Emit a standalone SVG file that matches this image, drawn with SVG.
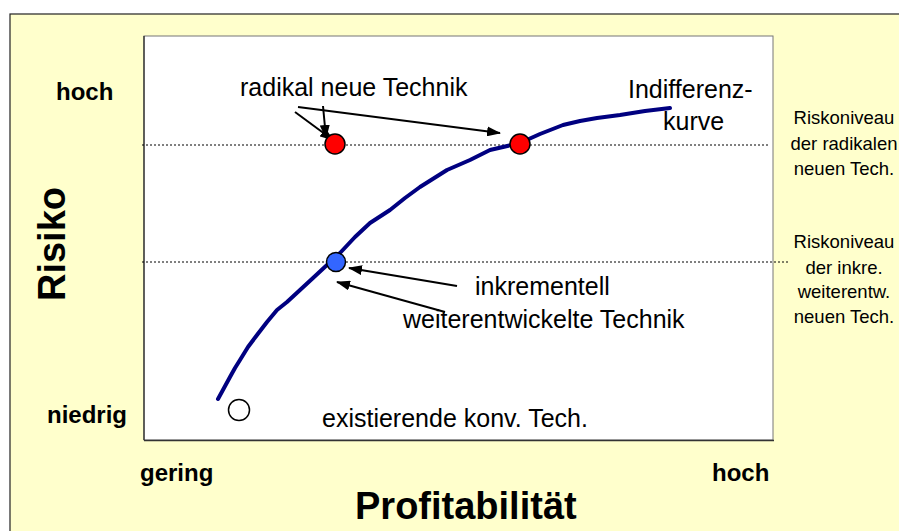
<svg xmlns="http://www.w3.org/2000/svg" width="899" height="531" viewBox="0 0 899 531">
<defs>
<marker id="ah" viewBox="0 0 14 10" refX="13" refY="5" markerWidth="14" markerHeight="10" markerUnits="userSpaceOnUse" orient="auto">
<path d="M0,0 L14,5 L0,10 z" fill="#000"/>
</marker>
</defs>
<style>
text{font-family:"Liberation Sans",Arial,sans-serif;fill:#000}
.lbl{font-size:25px}
.ax{font-size:24px;font-weight:bold}
.title{font-size:38px;font-weight:bold}
.side{font-size:18.5px;text-anchor:middle}
.dot{stroke:#000;stroke-width:1;stroke-dasharray:2,2;fill:none}
.arr{stroke:#000;stroke-width:2;fill:none;marker-end:url(#ah)}
.pt{stroke:#000;stroke-width:1.5}
</style>
<rect x="0" y="0" width="899" height="531" fill="#fff"/>
<g id="background">
<rect x="10" y="14" width="900" height="530" fill="#FFFFCC" stroke="#222" stroke-width="1.2"/>
<rect x="144" y="36" width="629" height="404" fill="#fff" stroke="#777" stroke-width="1"/>
<line x1="144" y1="36" x2="144" y2="440" stroke="#222" stroke-width="1.2"/>
<line x1="144" y1="440.5" x2="774" y2="440.5" stroke="#333" stroke-width="1.5"/>
</g>
<g id="levels">
<line class="dot" x1="142" y1="145" x2="770" y2="145"/>
<line class="dot" x1="142" y1="262" x2="788" y2="262"/>
</g>
<g id="curve">
<path d="M218,399 L224,388 L230,377 L235,368 L240,360 L248,347 L257,335 L267,322 L277,310 L287,302 L300,290 L313,278 L327,265 L340,253 L355,237 L370,223 L390,210 L405,198 L420,187 L447,170 L470,160 L490,150 L520,143 L540,134 L563,125 L580,121 L597,118 L620,115 L645,111 L670,108" fill="none" stroke="#000080" stroke-width="4" stroke-linecap="round" stroke-linejoin="round"/>
</g>
<g id="connectors">
<line class="arr" x1="298" y1="107" x2="500" y2="133"/>
<line class="arr" x1="295" y1="112" x2="333" y2="140"/>
<line class="arr" x1="323" y1="106" x2="326" y2="138"/>
<line class="arr" x1="457" y1="286" x2="349" y2="268"/>
<line class="arr" x1="445" y1="312" x2="337" y2="282"/>
</g>
<g id="node-radikal">
<circle class="pt" cx="335" cy="144" r="10" fill="#FF0000"/>
</g>
<g id="node-indiff">
<circle class="pt" cx="520" cy="144" r="10" fill="#FF0000"/>
</g>
<g id="node-inkrementell">
<circle class="pt" cx="336" cy="262" r="9.5" fill="#3366FF"/>
</g>
<g id="node-existierend">
<circle cx="239" cy="410" r="10.5" fill="#fff" stroke="#000" stroke-width="1.5"/>
</g>
<g id="labels">
<text class="lbl" x="240" y="96">radikal neue Technik</text>
<text class="lbl" x="628" y="98">Indifferenz-</text>
<text class="lbl" x="663" y="130">kurve</text>
<text class="lbl" x="475" y="295">inkrementell</text>
<text class="lbl" x="403" y="328">weiterentwickelte Technik</text>
<text class="lbl" x="322" y="427">existierende konv. Tech.</text>
<text class="ax" x="56" y="100">hoch</text>
<text class="ax" x="47" y="423">niedrig</text>
<text class="ax" x="140" y="481">gering</text>
<text class="ax" x="712" y="481">hoch</text>
<text class="title" x="355" y="519">Profitabilität</text>
<text class="title" transform="translate(65,244) rotate(-90)" text-anchor="middle">Risiko</text>
<text class="side" x="844" y="124">Riskoniveau</text>
<text class="side" x="844" y="150">der radikalen</text>
<text class="side" x="844" y="175">neuen Tech.</text>
<text class="side" x="844" y="248">Riskoniveau</text>
<text class="side" x="844" y="274">der inkre.</text>
<text class="side" x="844" y="298">weiterentw.</text>
<text class="side" x="844" y="323">neuen Tech.</text>
</g>
</svg>
